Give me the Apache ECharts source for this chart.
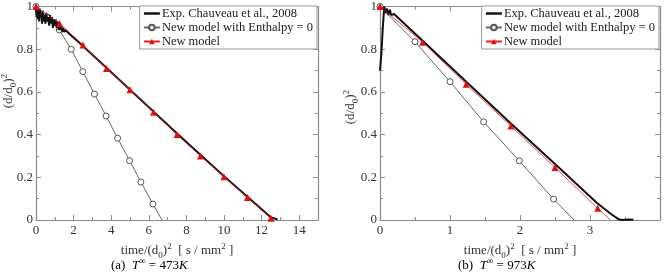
<!DOCTYPE html>
<html>
<head>
<meta charset="utf-8">
<script src="https://cdn.jsdelivr.net/npm/echarts@6/dist/echarts.min.js"></script>
<style>
  html, body { margin: 0; padding: 0; background: #fff; }
  #chart { width: 668px; height: 278px; }
</style>
</head>
<body>
<div id="chart"></div>
<script>
// ---- data, panel (a) T = 473K ----
var expA_t = [0, 0.03, 0.06, 0.1, 0.13, 0.17, 0.2, 0.24, 0.28, 0.32, 0.36, 0.4, 0.45, 0.5, 0.55, 0.6, 0.65, 0.7, 0.75, 0.8,
  0.85, 0.9, 0.95, 1.0, 1.05, 1.1, 1.15, 1.2, 1.25, 1.3, 1.35, 1.4, 1.45, 1.5, 1.55, 1.6, 2.5, 5, 7.5, 10, 12.5, 12.85];
var expA_y = [0.99, 0.95, 1.0, 0.94, 0.98, 0.93, 0.99, 0.95, 0.97, 0.92, 0.98, 0.93, 0.96, 0.92, 0.97, 0.93, 0.95, 0.91, 0.96, 0.92,
  0.95, 0.90, 0.94, 0.91, 0.94, 0.90, 0.93, 0.89, 0.92, 0.89, 0.91, 0.88, 0.90, 0.88, 0.89, 0.885, 0.815, 0.61, 0.405, 0.205, 0.012, 0.003];
var enthA_t = [0, 0.62, 1.24, 1.87, 2.49, 3.11, 3.73, 4.34, 4.98, 5.58, 6.22, 6.70];
var enthA_y = [1.0, 0.95, 0.89, 0.80, 0.695, 0.59, 0.487, 0.383, 0.278, 0.178, 0.075, 0];
var modelA_t = [0, 1.25, 2.5, 3.75, 5.0, 6.25, 7.5, 8.75, 10, 11.25, 12.5];
var modelA_y = [1.0, 0.92, 0.82, 0.71, 0.61, 0.505, 0.40, 0.30, 0.203, 0.105, 0.008];

// ---- data, panel (b) T = 973K ----
var expB_t = [0, 0.02, 0.04, 0.06, 0.08, 0.1, 0.12, 0.14, 0.16, 0.2, 0.25, 0.62, 1.24, 1.87, 2.5, 3.1, 3.3, 3.4, 3.45, 3.55, 3.62];
var expB_y = [0.70, 0.78, 0.90, 1.0, 0.97, 0.99, 0.96, 0.985, 0.96, 0.965, 0.95, 0.836, 0.645, 0.452, 0.262, 0.08, 0.028, 0.005, 0, 0.002, 0.001];
var enthB_t = [0, 0.5, 1.0, 1.48, 1.99, 2.48, 2.77];
var enthB_y = [1.0, 0.835, 0.648, 0.46, 0.277, 0.098, 0];
var modelB_t = [0, 0.61, 1.23, 1.87, 2.5, 3.11, 3.29];
var modelB_y = [1.0, 0.833, 0.636, 0.44, 0.246, 0.055, 0];

var captionA = '473';
var captionB = '973';

var names = ['Exp. Chauveau et al., 2008', 'New model with Enthalpy = 0', 'New model'];
var FONT = 'Liberation Serif';
var FRAME = '#8a8a8a';

function pairs(t, y, lastNoSymbol) {
  return t.map(function (v, i) {
    var p = { value: [v, y[i]] };
    if (lastNoSymbol && i === t.length - 1) p.symbol = 'none';
    return p;
  });
}

var dom = document.getElementById('chart');
var chart = echarts.init(dom, null, { renderer: 'canvas' });

var supRich = {
  a: { fontFamily: FONT, fontSize: 13, color: '#333', lineHeight: 18 },
  s: { fontFamily: FONT, fontSize: 9, color: '#333', lineHeight: 9, verticalAlign: 'bottom' },
  p: { fontFamily: FONT, fontSize: 9, color: '#333', lineHeight: 9, verticalAlign: 'top' }
};

function xAxisFor(grid, max, interval, top) {
  return {
    gridIndex: grid, type: 'value', min: 0, max: max, interval: interval,
    position: top ? 'top' : 'bottom',
    axisLine: { show: true, onZero: false, lineStyle: { color: FRAME, width: 1.2 } },
    axisTick: { show: true, inside: true, length: 5, lineStyle: { color: FRAME } },
    minorTick: { show: true, splitNumber: 2, length: 3, lineStyle: { color: FRAME } },
    splitLine: { show: false },
    axisLabel: { show: !top, showMaxLabel: false, margin: 4, fontFamily: FONT, fontSize: 13, color: '#333' },
    name: top ? '' : '{a|time/(d}{s|0}{a|)}{p|2}{a|  [ s / mm}{p|2}{a| ]}',
    nameLocation: 'middle', nameGap: 21,
    nameTextStyle: { rich: supRich }
  };
}

function yAxisFor(grid, right) {
  return {
    gridIndex: grid, type: 'value', min: 0, max: 1, interval: 0.2,
    position: right ? 'right' : 'left',
    axisLine: { show: true, onZero: false, lineStyle: { color: FRAME, width: 1.2 } },
    axisTick: { show: true, inside: true, length: 5, lineStyle: { color: FRAME } },
    minorTick: { show: true, splitNumber: 2, length: 3, lineStyle: { color: FRAME } },
    splitLine: { show: false },
    axisLabel: { show: !right, margin: 3, fontFamily: FONT, fontSize: 13, color: '#333' }
  };
}

function seriesFor(xi, yi, expT, expY, enT, enY, mT, mY, mLast) {
  return [
    {
      name: names[0], type: 'line', xAxisIndex: xi, yAxisIndex: yi, showSymbol: false, symbol: 'none',
      data: pairs(expT, expY), lineStyle: { color: '#111', width: 2 }, itemStyle: { color: '#111' }, z: 3
    },
    {
      name: names[1], type: 'line', xAxisIndex: xi, yAxisIndex: yi, symbol: 'circle', symbolSize: 6,
      data: pairs(enT, enY, true), lineStyle: { color: '#666', width: 1 },
      itemStyle: { color: '#fff', borderColor: '#555', borderWidth: 1 }, z: 2
    },
    {
      name: names[2], type: 'line', xAxisIndex: xi, yAxisIndex: yi, symbol: 'triangle', symbolSize: 7,
      data: pairs(mT, mY, mLast), lineStyle: { color: '#d22', width: 0.8 },
      itemStyle: { color: '#e01010' }, z: 4
    }
  ];
}

function legendFor(right) {
  return {
    data: [
      { name: names[0], itemStyle: { opacity: 0 }, lineStyle: { color: '#111', width: 2.5 } },
      { name: names[1] },
      { name: names[2] }
    ],
    orient: 'vertical', right: right, top: 6,
    itemWidth: 16, itemHeight: 7, itemGap: 1,
    backgroundColor: '#fff', borderColor: '#999', borderWidth: 1, borderRadius: 0,
    padding: [1, 4, 1, 3],
    textStyle: { fontFamily: FONT, fontSize: 12.5, color: '#222', lineHeight: 13, padding: [0, 0, 0, -3] },
    selectedMode: false
  };
}

function yLabel(x, y) {
  return {
    type: 'text', left: x, top: y, rotation: Math.PI / 2,
    style: { text: '{a|(d/d}{s|0}{a|)}{p|2}', rich: supRich, fill: '#333' }
  };
}

function caption(x, letter, temp) {
  return {
    type: 'text', left: x, top: 257,
    style: {
      text: '{n|(' + letter + ')  }{i|T}{p|∞}{n| = ' + temp + '}{i|K}',
      rich: {
        n: { fontFamily: FONT, fontSize: 13, color: '#222', lineHeight: 18 },
        i: { fontFamily: FONT, fontSize: 13, fontStyle: 'italic', color: '#222', lineHeight: 18 },
        p: { fontFamily: FONT, fontSize: 9, fontStyle: 'italic', color: '#222', lineHeight: 9, verticalAlign: 'top' }
      }
    }
  };
}

var option = {
  animation: false,
  backgroundColor: '#fff',
  grid: [
    { left: 36, right: 350, top: 6, bottom: 58 },
    { left: 380, right: 8, top: 6, bottom: 58 }
  ],
  xAxis: [xAxisFor(0, 15, 2, false), xAxisFor(0, 15, 2, true), xAxisFor(1, 4, 1, false), xAxisFor(1, 4, 1, true)],
  yAxis: [yAxisFor(0, false), yAxisFor(0, true), yAxisFor(1, false), yAxisFor(1, true)],
  legend: [legendFor(351), legendFor(9)],
  graphic: [
    yLabel(0, 74),
    yLabel(342, 90),
    caption(111, 'a', captionA),
    caption(458, 'b', captionB)
  ],
  series: [].concat(
    seriesFor(0, 0, expA_t, expA_y, enthA_t, enthA_y, modelA_t, modelA_y, false),
    seriesFor(2, 2, expB_t, expB_y, enthB_t, enthB_y, modelB_t, modelB_y, true)
  )
};

chart.setOption(option);
</script>
</body>
</html>
